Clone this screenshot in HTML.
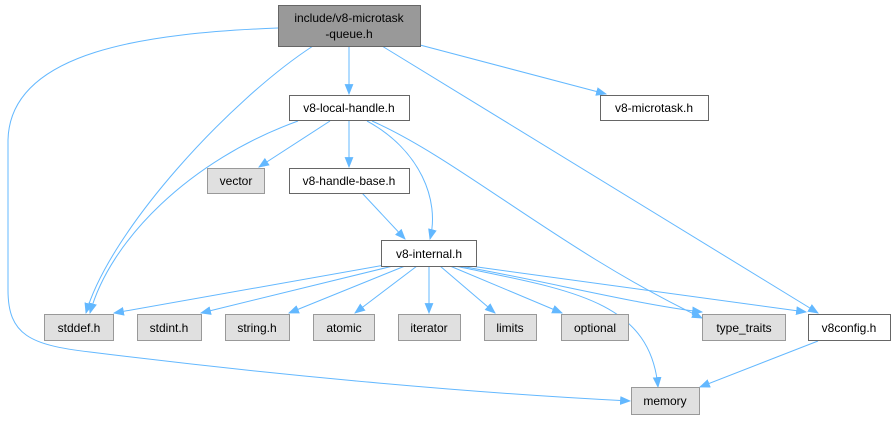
<!DOCTYPE html>
<html><head><meta charset="utf-8"><style>
html,body{margin:0;padding:0;background:#fff;}
text{font-family:"Liberation Sans",Helvetica,sans-serif;font-size:12px;fill:#000;text-anchor:middle;}
.e{fill:none;stroke:#63b8ff;stroke-width:1;}
.w{fill:#fff;stroke:#666;}
.g{fill:#e0e0e0;stroke:#999;}
</style></head><body>
<svg width="895" height="420" viewBox="0 0 895 420" xmlns="http://www.w3.org/2000/svg">
<defs><marker id="m" viewBox="0 0 10 10" refX="9" refY="5" markerWidth="11" markerHeight="11" orient="auto" markerUnits="userSpaceOnUse"><path d="M0,1 L10,5 L0,9 z" fill="#63b8ff"/></marker></defs>
<g marker-end="url(#m)">
<path class="e" d="M278,28 C150,33 10,50 8,140 L8,290 C8,335 30,345 90,352 C250,372 450,392 630,401"/>
<path class="e" d="M313,46 C230,100 110,230 86,313"/>
<path class="e" d="M349,46 L349,94"/>
<path class="e" d="M420,45 L606,94"/>
<path class="e" d="M382,46 L818,313"/>
<path class="e" d="M298,121 C190,160 110,240 90,313"/>
<path class="e" d="M330,121 L259,167"/>
<path class="e" d="M349,121 L349,167"/>
<path class="e" d="M367,121 C420,150 440,200 430,239"/>
<path class="e" d="M372,121 C460,160 560,250 702,318"/>
<path class="e" d="M362,193 L405,239"/>
<path class="e" d="M385,265 L114,313"/>
<path class="e" d="M393,266 L201,313"/>
<path class="e" d="M405,266 L289,313"/>
<path class="e" d="M417,266 L355,313"/>
<path class="e" d="M429,266 L429,313"/>
<path class="e" d="M440,266 L495,313"/>
<path class="e" d="M450,266 L562,313"/>
<path class="e" d="M460,266 C540,280 640,305 702,312"/>
<path class="e" d="M470,266 L806,312"/>
<path class="e" d="M455,266 C570,290 650,300 658,387"/>
<path class="e" d="M818,341 L700,387"/>
</g>
<rect x="278.5" y="5.5" width="142" height="41" fill="#999" stroke="#666"/>
<text x="349" y="22">include/v8-microtask</text><text x="349" y="38">-queue.h</text>
<rect class="w" x="289.5" y="95.5" width="120" height="25"/><text x="349" y="112">v8-local-handle.h</text>
<rect class="w" x="600.5" y="95.5" width="108" height="25"/><text x="654" y="112">v8-microtask.h</text>
<rect class="g" x="207.5" y="168.5" width="57" height="25"/><text x="236" y="185">vector</text>
<rect class="w" x="289.5" y="168.5" width="120" height="25"/><text x="349" y="185">v8-handle-base.h</text>
<rect class="w" x="381.5" y="240.5" width="95" height="26"/><text x="429" y="258">v8-internal.h</text>
<rect class="g" x="44.5" y="314.5" width="69" height="26"/><text x="79" y="332">stddef.h</text>
<rect class="g" x="137.5" y="314.5" width="64" height="26"/><text x="169" y="332">stdint.h</text>
<rect class="g" x="225.5" y="314.5" width="64" height="26"/><text x="257" y="332">string.h</text>
<rect class="g" x="313.5" y="314.5" width="61" height="26"/><text x="344" y="332">atomic</text>
<rect class="g" x="398.5" y="314.5" width="62" height="26"/><text x="429" y="332">iterator</text>
<rect class="g" x="484.5" y="314.5" width="52" height="26"/><text x="510" y="332">limits</text>
<rect class="g" x="561.5" y="314.5" width="67" height="26"/><text x="595" y="332">optional</text>
<rect class="g" x="702.5" y="314.5" width="83" height="26"/><text x="744" y="332">type_traits</text>
<rect class="w" x="808.5" y="314.5" width="82" height="26"/><text x="849" y="332">v8config.h</text>
<rect class="g" x="631.5" y="387.5" width="68" height="27"/><text x="665" y="405">memory</text>
</svg>
</body></html>
